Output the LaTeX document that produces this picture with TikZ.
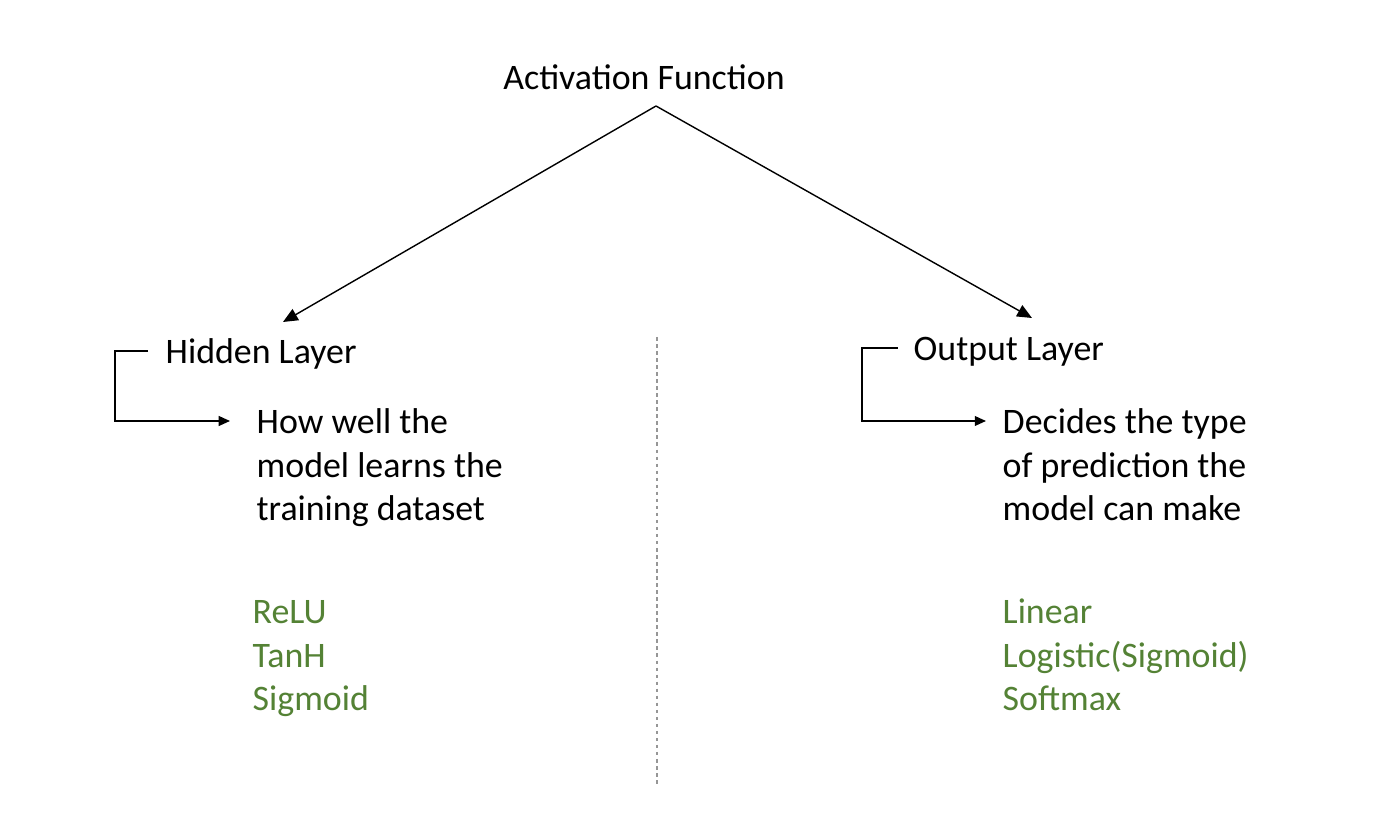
\documentclass[tikz,border=0pt]{standalone}
\usepackage{fontspec}
\setmainfont{Carlito}
\usepackage{tikz}
\usetikzlibrary{arrows.meta,positioning}
\usepackage{xcolor}
\definecolor{afgreen}{RGB}{84,130,53}
\definecolor{afgray}{RGB}{150,150,150}
\tikzstyle{arrow} = [thin,-{Triangle[length=4.2pt,width=3.6pt]},color=black]
\tikzstyle{smallarrow} = [thin,-{Triangle[length=3.2pt,width=2.8pt]},color=black]
\tikzstyle{label} = [inner sep=0pt, anchor=base west, align=left, font=\fontsize{10.2pt}{12.4pt}\selectfont]
\tikzstyle{title} = [label, anchor=base]
\tikzstyle{funclist} = [label, text=afgreen]

\begin{document}
\begin{tikzpicture}[x=0.01cm, y=-0.01cm]
\useasboundingbox (0,0) rectangle (1387,825);
% Root
\node (root) [title] at (644,90) {Activation Function};
\coordinate (apex) at (656,106);

% Hidden Layer side
\node (hidden) [label] at (165,364) {Hidden Layer};
\node (hiddendesc) [label] at (256,521) {How well the\\model learns the\\training dataset};
\node (hiddenfuncs) [funclist] at (252,711) {ReLU\\TanH\\Sigmoid};
\coordinate (hiddentip) at (283,322);
\coordinate (hiddenin) at (230,421);

% Output Layer side
\node (output) [label] at (913,361) {Output Layer};
\node (outputdesc) [label] at (1002,521) {Decides the type\\of prediction the\\model can make};
\node (outputfuncs) [funclist] at (1002,711) {Linear\\Logistic(Sigmoid)\\Softmax};
\coordinate (outputtip) at (1032,318);
\coordinate (outputin) at (986,421);

% Branches
\draw[arrow] (apex) -- (hiddentip);
\draw[arrow] (apex) -- (outputtip);

% Brackets
\draw[smallarrow] ([xshift=-4.8pt]hidden.west |- 0,351) -- (115,351) |- (hiddenin);
\draw[smallarrow] ([xshift=-4.3pt]output.west |- 0,348) -- (862,348) |- (outputin);

% Divider
\draw[afgray, dash pattern=on 1pt off 1pt] (657,337) -- (657,785);
\end{tikzpicture}
\end{document}
